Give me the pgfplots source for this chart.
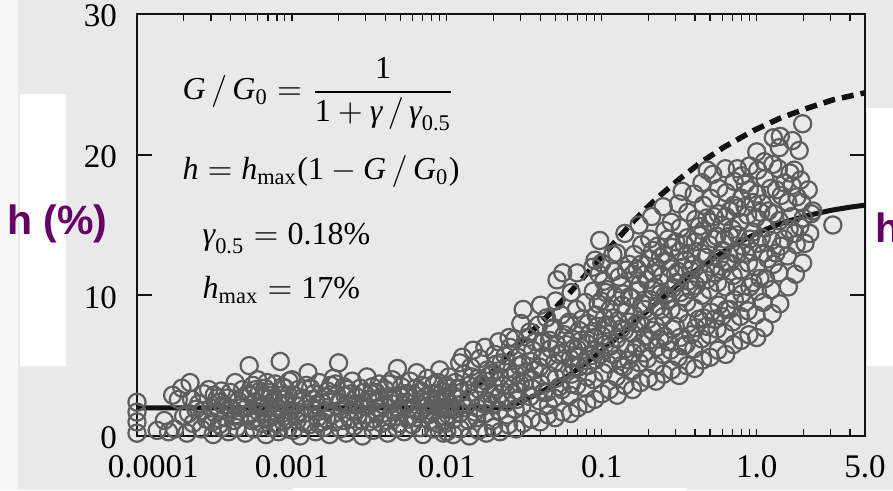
\documentclass[border=0pt]{standalone}
\usepackage{amsmath}
\usepackage{fontspec}
\setmainfont{Liberation Serif}
\newfontfamily\labelsans{Liberation Sans}
\usepackage{pgfplots}
\pgfplotsset{compat=1.18}

\definecolor{panel}{RGB}{233,233,233}
\definecolor{ring}{RGB}{94,94,94}
\definecolor{plum}{RGB}{102,0,102}
\definecolor{ink}{RGB}{18,18,18}
\newcommand{\mi}[1]{\text{\itshape #1}}
\newcommand{\mr}[1]{\text{\upshape #1}}

\begin{document}
\begin{tikzpicture}[x=1pt,y=1pt]
\useasboundingbox (0,0) rectangle (893,490);
\clip (0,0) rectangle (893,490);
% slide background
\fill[white!97!black] (0,0) rectangle (18,490);
\fill[panel] (18,0) rectangle (893,490);
\fill[white] (293,0) rectangle (687,2);
\fill[white] (20,124) rectangle (66,396);
\fill[white] (867,124) rectangle (893,382);

\begin{axis}[
  at={(137pt,54pt)}, anchor=south west,
  scale only axis, width=728pt, height=422pt,
  xmode=log, xmin=1e-4, xmax=5, ymin=0, ymax=30,
  clip=false, axis on top,
  axis line style={ink, line width=2.4pt},
  tick align=inside, xtick pos=both, ytick pos=both,
  xticklabel pos=lower, yticklabel pos=left,
  xtick={1e-4,1e-3,1e-2,1e-1,1,5},
  xticklabels={\rlap{\kern-29pt 0.0001},0.001,0.01,0.1,1.0,5.0},
  minor xtick={2e-4,3e-4,4e-4,5e-4,6e-4,7e-4,8e-4,9e-4,1e-3,
               2e-3,3e-3,4e-3,5e-3,6e-3,7e-3,8e-3,9e-3,1e-2,
               2e-2,3e-2,4e-2,5e-2,6e-2,7e-2,8e-2,9e-2,1e-1,
               0.2,0.3,0.4,0.5,0.6,0.7,0.8,0.9,1,2,3,4},
  ytick={0,10,20,30}, yticklabels={0,10,20,30},
  major tick length=15pt, minor tick length=7pt,
  major x tick style={draw=none},
  minor tick style={ink, line width=1.2pt},
  major tick style={ink, line width=2pt},
  xticklabel style={font=\fontsize{33}{36}\selectfont, anchor=north, inner sep=0pt, yshift=-19pt},
  yticklabel style={font=\fontsize{33}{36}\selectfont, anchor=east, inner sep=0pt, xshift=-20pt, yshift=-2pt},
]
% measured points
\addplot[only marks, mark=o, mark size=8.6pt, ring, mark options={line width=2.2pt}] coordinates {
(1e-4,0.2)(1e-4,1.0)(1e-4,1.7)(1e-4,2.4)
(1.35e-4,0.4)(1.5e-4,1.1)(1.6e-4,0.3)(1.7e-4,2.9)(1.75e-4,0.5)(1.85e-4,2.6)(1.95e-4,3.4)(2.0e-4,1.4)(2.1e-4,0.2)(2.2e-4,3.8)(2.25e-4,2.6)(2.3e-4,0.9)(2.4e-4,1.9)(2.5e-4,2.3)(2.6e-4,0.5)(2.7e-4,3.0)(2.8e-4,1.2)(2.9e-4,3.3)(3.0e-4,2.0)(3.1e-4,0.1)(3.2e-4,1.6)(3.3e-4,2.7)(3.4e-4,0.8)(3.5e-4,3.2)(3.6e-4,2.2)(3.7e-4,1.3)(3.8e-4,2.7)(3.9e-4,0.3)(4.0e-4,3.1)(4.1e-4,1.9)(4.3e-4,3.8)(4.4e-4,0.6)(4.5e-4,2.5)(4.6e-4,1.4)(4.8e-4,3.3)(5.0e-4,0.2)(5.1e-4,2.0)(5.2e-4,3.0)(5.3e-4,5.0)(5.4e-4,2.9)(5.5e-4,1.1)(5.6e-4,3.6)(5.7e-4,0.5)(5.8e-4,2.4)(6.0e-4,4.0)(6.1e-4,1.7)(6.2e-4,3.2)(6.4e-4,0.9)(6.5e-4,2.8)(6.7e-4,3.4)(6.8e-4,0.1)(6.9e-4,3.8)(7.0e-4,2.1)(7.1e-4,1.3)(7.3e-4,3.1)(7.4e-4,0.6)(7.6e-4,2.5)(7.8e-4,3.7)(8.0e-4,1.6)(8.2e-4,0.3)(8.4e-4,5.3)(8.5e-4,2.9)(8.8e-4,1.0)(9.0e-4,3.4)(9.2e-4,2.2)(9.4e-4,0.5)(9.6e-4,3.9)(9.8e-4,1.8)
(3.05e-4,1.0)(3.45e-4,2.4)(4.2e-4,1.1)(4.7e-4,2.0)(5.9e-4,1.3)(6.6e-4,2.2)(7.5e-4,1.5)(8.1e-4,2.4)(8.7e-4,3.5)(9.3e-4,1.2)
(2.15e-4,1.6)(2.65e-4,1.8)(3.15e-4,2.9)(3.55e-4,0.6)(3.95e-4,2.0)(4.35e-4,1.5)(4.9e-4,2.7)(5.35e-4,1.5)(5.85e-4,3.3)(6.3e-4,2.0)(6.85e-4,1.2)(7.2e-4,2.9)(7.9e-4,0.9)(8.3e-4,1.9)(8.9e-4,2.6)(9.5e-4,2.9)
(1.0e-3,4.0)(1.02e-3,0.4)(1.05e-3,2.2)(1.08e-3,1.1)(1.1e-3,3.3)(1.13e-3,0.0)(1.16e-3,2.7)(1.2e-3,1.6)(1.24e-3,3.6)(1.27e-3,4.5)(1.3e-3,0.8)(1.34e-3,2.0)(1.38e-3,3.0)(1.42e-3,0.3)(1.46e-3,1.3)(1.5e-3,3.8)(1.55e-3,2.4)(1.6e-3,0.6)(1.65e-3,1.8)(1.7e-3,3.2)(1.75e-3,0.1)(1.8e-3,2.6)(1.85e-3,4.1)(1.9e-3,1.0)(1.95e-3,2.9)(2.0e-3,5.2)(2.05e-3,0.5)(2.1e-3,1.9)(2.17e-3,3.5)(2.24e-3,0.2)(2.3e-3,2.3)(2.37e-3,1.2)(2.45e-3,3.9)(2.52e-3,0.7)(2.6e-3,2.8)(2.68e-3,1.5)(2.76e-3,3.4)(2.85e-3,0.0)(2.95e-3,2.1)(3.05e-3,4.2)(3.15e-3,1.0)(3.25e-3,3.0)(3.35e-3,0.4)(3.45e-3,2.5)(3.55e-3,1.7)(3.65e-3,3.7)(3.8e-3,0.9)(3.9e-3,2.2)(4.0e-3,3.3)(4.15e-3,0.2)(4.3e-3,1.4)(4.45e-3,4.0)(4.6e-3,2.7)(4.75e-3,0.6)(4.8e-3,4.8)(4.95e-3,1.9)(5.1e-3,3.5)(5.3e-3,0.3)(5.45e-3,2.4)(5.6e-3,1.2)(5.8e-3,3.9)(6.0e-3,0.8)(6.2e-3,2.9)(6.4e-3,4.5)(6.6e-3,1.6)(6.8e-3,3.2)(7.0e-3,0.1)(7.2e-3,2.0)(7.5e-3,4.1)(7.7e-3,1.1)(8.0e-3,3.0)(8.2e-3,0.5)(8.5e-3,2.5)(8.8e-3,3.8)(9.0e-3,4.7)(9.2e-3,1.4)(9.5e-3,0.2)(9.7e-3,2.8)(9.9e-3,3.6)
(1.12e-3,1.7)(1.35e-3,2.6)(1.58e-3,1.0)(1.78e-3,3.6)(2.2e-3,2.9)(2.5e-3,1.7)(2.9e-3,3.1)(3.4e-3,1.2)(3.7e-3,2.7)(4.2e-3,3.7)(4.9e-3,0.9)(5.4e-3,3.0)(6.1e-3,1.9)(6.9e-3,2.6)(7.9e-3,1.8)(8.7e-3,0.9)(9.4e-3,3.2)
(1.03e-3,2.9)(1.22e-3,0.9)(1.45e-3,2.2)(1.68e-3,1.2)(1.92e-3,3.7)(2.14e-3,1.1)(2.4e-3,3.0)(2.72e-3,2.3)(3.0e-3,1.5)(3.3e-3,3.5)(3.6e-3,2.0)(4.1e-3,1.1)(4.4e-3,2.3)(5.0e-3,2.8)(5.7e-3,2.0)(6.3e-3,3.4)(6.7e-3,0.6)(7.3e-3,2.8)(7.6e-3,1.5)(8.3e-3,3.7)(9.1e-3,2.0)(9.8e-3,1.1)
(1.07e-3,1.5)(1.18e-3,2.5)(1.32e-3,3.4)(1.48e-3,0.9)(1.62e-3,2.8)(1.82e-3,1.5)(2.02e-3,2.4)(2.28e-3,3.3)(2.55e-3,2.2)(2.82e-3,1.1)(3.1e-3,2.6)(3.5e-3,3.1)(3.85e-3,1.6)(4.25e-3,2.7)(4.7e-3,1.4)(5.2e-3,2.2)(5.65e-3,3.0)(6.25e-3,1.3)(6.9e-3,3.6)(7.4e-3,2.4)(8.1e-3,2.2)(8.6e-3,3.0)(9.3e-3,2.5)(9.9e-3,1.9)
(0.0100,0.3)(0.0102,1.5)(0.0099,2.6)(0.0101,3.4)(0.0103,4.2)(0.0098,0.9)
(0.0110,0.1)(0.0112,1.9)(0.0109,2.9)(0.0113,3.8)(0.0121,5.2)(0.0111,1.2)
(0.0122,0.5)(0.0127,2.3)(0.0124,3.1)(0.0129,4.4)(0.0126,5.6)(0.0121,1.6)
(0.0140,0.0)(0.0138,1.1)(0.0142,2.7)(0.0139,3.6)(0.0143,4.9)(0.0148,6.1)
(0.0160,0.4)(0.0157,2.0)(0.0162,3.3)(0.0159,4.1)(0.0163,5.5)(0.0156,1.3)
(0.0180,0.2)(0.0177,1.6)(0.0182,2.5)(0.0178,3.9)(0.0183,4.7)(0.0176,6.3)
(0.0200,0.6)(0.0197,2.2)(0.0203,3.5)(0.0199,4.5)(0.0204,5.8)(0.0196,1.1)
(0.0220,0.3)(0.0217,1.8)(0.0223,3.0)(0.0219,4.2)(0.0224,5.2)(0.0216,6.7)
(0.0250,0.8)(0.0246,2.4)(0.0254,3.6)(0.0248,4.8)(0.0256,6.3)(0.0245,1.5)(0.0252,7.0)
(0.0280,0.5)(0.0276,1.9)(0.0285,3.2)(0.0278,4.4)(0.0287,5.6)(0.0275,6.9)(0.0283,2.6)
(0.0310,0.9)(0.0305,2.1)(0.0315,3.8)(0.0308,5.1)(0.0318,6.4)(0.0300,8.0)(0.0311,9.0)
(0.0350,1.2)(0.0345,2.8)(0.0356,4.0)(0.0348,5.3)(0.0358,6.1)(0.0343,7.4)(0.0353,3.4)
(0.0400,1.0)(0.0394,2.5)(0.0406,3.7)(0.0397,4.9)(0.0409,6.6)(0.0391,7.9)(0.0402,9.3)
(0.0450,1.5)(0.0443,3.1)(0.0457,4.3)(0.0447,5.6)(0.0460,6.8)(0.0440,8.4)(0.0453,2.2)
(0.0500,1.3)(0.0493,2.7)(0.0508,4.1)(0.0497,5.2)(0.0512,6.5)(0.0490,7.7)(0.0504,9.6)(0.0514,11.1)
(0.0560,1.7)(0.0552,3.3)(0.0568,4.6)(0.0556,5.9)(0.0572,7.2)(0.0548,8.6)(0.0560,11.6)
(0.0630,1.6)(0.0621,2.9)(0.0639,4.4)(0.0626,5.5)(0.0643,6.9)(0.0617,8.1)(0.0634,10.2)(0.0636,3.7)
(0.0700,2.0)(0.0690,3.6)(0.0710,4.9)(0.0695,6.2)(0.0715,7.5)(0.0686,9.0)(0.0692,11.6)(0.0705,5.6)
(0.0800,2.3)(0.0789,3.4)(0.0811,5.0)(0.0795,6.6)(0.0817,8.0)(0.0784,9.5)(0.0875,12.0)(0.0806,4.2)
(0.0900,2.6)(0.0888,4.0)(0.0912,5.4)(0.0894,7.0)(0.0918,8.6)(0.0882,10.3)(0.0905,12.5)(0.0908,6.1)
(0.0105,2.0)(0.0118,3.4)(0.0131,2.0)(0.0145,4.2)(0.0152,1.7)(0.0168,3.7)(0.0172,2.3)(0.0188,4.3)(0.0192,3.0)(0.0208,5.1)(0.0212,2.7)(0.0232,3.6)(0.0238,5.7)(0.0262,4.2)(0.0268,3.0)(0.0292,5.0)(0.0298,3.7)(0.0326,4.5)(0.0332,7.0)(0.0367,4.7)(0.0372,6.7)(0.0415,5.6)(0.0422,3.1)(0.0468,6.2)(0.0475,7.6)(0.0525,5.8)(0.0532,3.5)(0.0588,6.5)(0.0595,7.9)(0.0655,6.2)(0.0662,4.9)(0.0735,6.8)(0.0745,8.3)(0.0835,7.3)(0.0845,5.7)(0.0935,7.8)(0.0945,9.4)(0.0960,11.5)
(0.100,3.0)(0.102,4.5)(0.098,5.8)(0.101,7.1)(0.104,8.4)(0.099,9.6)(0.103,11.0)(0.100,12.3)(0.097,13.9)
(0.112,3.3)(0.110,5.1)(0.114,6.4)(0.111,7.7)(0.113,9.0)(0.109,10.4)(0.125,13.0)
(0.126,2.9)(0.124,4.2)(0.128,5.5)(0.125,6.9)(0.127,8.2)(0.123,9.9)(0.129,11.3)(0.118,12.9)
(0.141,3.6)(0.139,4.9)(0.143,6.2)(0.140,7.5)(0.142,8.8)(0.138,10.1)(0.144,11.8)(0.141,14.4)
(0.158,3.3)(0.155,4.6)(0.160,5.9)(0.157,7.3)(0.161,8.6)(0.156,9.8)(0.159,11.5)(0.162,12.9)
(0.178,3.8)(0.175,5.2)(0.180,6.6)(0.177,8.0)(0.182,9.4)(0.176,10.8)(0.179,12.2)(0.181,13.6)(0.174,15.0)
(0.200,4.1)(0.197,5.5)(0.203,6.8)(0.199,8.3)(0.205,9.7)(0.196,11.1)(0.201,12.6)(0.204,14.0)(0.210,15.6)
(0.224,3.9)(0.221,5.0)(0.227,6.3)(0.223,7.8)(0.228,9.2)(0.220,10.6)(0.225,12.0)(0.229,13.5)
(0.251,4.4)(0.247,5.8)(0.254,7.1)(0.250,8.5)(0.256,10.0)(0.246,11.4)(0.252,12.9)(0.255,14.6)(0.249,16.3)
(0.282,4.7)(0.278,6.1)(0.286,7.6)(0.280,9.0)(0.287,10.5)(0.277,11.9)(0.284,13.4)(0.281,15.2)
(0.316,4.3)(0.312,5.6)(0.320,7.0)(0.314,8.7)(0.322,10.2)(0.311,11.7)(0.318,13.1)(0.321,14.8)(0.313,16.5)(0.330,17.4)
(0.355,5.0)(0.350,6.5)(0.360,8.0)(0.353,9.5)(0.362,11.0)(0.349,12.5)(0.357,14.1)(0.359,15.9)
(0.398,4.8)(0.393,6.2)(0.404,7.7)(0.396,9.1)(0.406,10.7)(0.391,12.2)(0.401,13.8)(0.403,15.4)(0.395,17.2)
(0.447,5.4)(0.441,6.9)(0.453,8.4)(0.444,10.0)(0.456,11.5)(0.439,13.0)(0.450,14.6)(0.452,16.4)(0.443,18.0)(0.480,18.9)
(0.501,5.6)(0.495,7.2)(0.508,8.8)(0.498,10.4)(0.511,12.0)(0.492,13.6)(0.504,15.2)(0.506,16.9)(0.520,18.6)
(0.562,6.1)(0.555,7.6)(0.570,9.3)(0.559,10.9)(0.573,12.6)(0.552,14.2)(0.565,15.8)(0.568,17.6)
(0.631,5.8)(0.623,7.3)(0.639,9.0)(0.627,10.6)(0.643,12.3)(0.620,14.0)(0.634,15.6)(0.637,17.3)(0.628,19.0)
(0.708,6.5)(0.699,8.1)(0.717,9.7)(0.704,11.4)(0.721,13.0)(0.696,14.7)(0.712,16.4)(0.715,18.1)
(0.794,6.8)(0.784,8.5)(0.804,10.1)(0.789,11.8)(0.808,13.5)(0.780,15.2)(0.798,16.9)(0.801,18.5)(0.750,19.0)
(0.891,7.2)(0.880,8.9)(0.902,10.6)(0.885,12.3)(0.907,14.0)(0.875,15.7)(0.896,17.5)(0.899,19.2)
(1.00,7.0)(0.99,8.6)(1.01,10.3)(0.995,12.0)(1.02,13.7)(0.985,15.5)(1.005,17.2)(1.015,18.9)(1.00,20.2)
(0.107,7.9)(0.135,9.3)(0.150,12.2)(0.170,10.3)(0.190,7.1)(0.215,11.6)(0.240,9.0)(0.265,12.4)(0.300,10.9)(0.340,13.6)(0.375,11.8)(0.420,14.3)(0.470,12.7)(0.530,15.6)(0.600,13.2)(0.670,16.0)(0.750,14.3)(0.840,16.3)(0.940,13.1)(1.06,15.9)
(0.105,6.5)(0.106,10.2)(0.118,5.8)(0.119,8.4)(0.120,11.7)(0.133,5.0)(0.133,7.6)(0.134,10.8)(0.149,5.4)(0.150,8.1)(0.151,9.9)(0.167,6.3)(0.168,8.0)(0.169,11.9)(0.188,5.9)(0.189,9.0)(0.190,11.5)(0.211,7.5)(0.212,10.4)(0.213,13.2)(0.237,6.9)(0.238,10.1)(0.239,12.7)(0.266,6.7)(0.267,9.7)(0.268,14.0)(0.298,7.8)(0.299,11.5)(0.300,13.8)(0.335,6.4)(0.336,9.9)(0.337,12.0)(0.376,7.2)(0.377,10.4)(0.378,13.0)(0.423,8.3)(0.424,11.2)(0.425,14.9)(0.474,7.8)(0.475,11.1)(0.476,15.5)(0.532,8.3)(0.533,11.6)(0.534,14.0)(0.596,8.5)(0.597,11.8)(0.598,15.0)(0.668,9.0)(0.669,12.3)(0.670,14.2)(0.750,10.6)(0.751,12.9)(0.752,16.2)(0.842,9.5)(0.843,13.0)(0.844,17.9)(0.945,10.9)(0.946,14.5)(0.947,16.6)
(1.12,7.7)(1.10,9.5)(1.14,11.2)(1.11,13.0)(1.15,14.8)(1.09,16.5)(1.13,18.3)(1.12,19.5)
(1.26,8.7)(1.24,10.4)(1.28,12.2)(1.25,13.9)(1.29,15.8)(1.23,17.6)(1.27,19.3)(1.40,20.5)(1.28,21.2)
(1.41,9.4)(1.39,11.6)(1.43,13.5)(1.40,15.3)(1.44,17.1)(1.38,19.0)(1.42,21.3)
(1.60,10.6)(1.58,12.8)(1.62,14.7)(1.59,16.6)(1.64,18.7)(1.88,20.3)
(1.78,11.5)(1.80,13.6)(1.76,14.4)(1.82,17.0)(1.75,18.9)(1.70,21.0)
(1.98,12.3)(2.05,13.7)(1.95,16.6)(2.00,15.5)(1.98,22.2)
(2.20,14.4)(2.25,15.8)(2.15,17.5)(2.30,16.0)
(1.05,11.2)(1.07,14.1)(1.18,12.6)(1.19,16.0)(1.33,13.0)(1.34,17.5)(1.50,14.0)(1.51,18.0)(1.68,15.6)(1.69,17.8)(1.90,14.9)(1.92,18.2)
(3.10,15.0)
};
% fitted curve, gamma_0.5 = 0.18%, h_max = 17%
\addplot[ink, line width=5pt] coordinates {
(1e-4,2.0)(0.0245,2.0)(0.03,2.43)(0.035,2.77)(0.04,3.09)(0.05,3.70)(0.06,4.25)(0.07,4.76)(0.08,5.23)(0.1,6.07)(0.12,6.80)(0.15,7.73)(0.2,8.95)(0.25,9.88)(0.3,10.63)(0.4,11.72)(0.5,12.50)(0.7,13.52)(1,14.41)(1.2,14.78)(1.5,15.18)(2,15.60)(3,16.04)(4,16.27)(5,16.41)
};
% upper bound curve
\addplot[ink, line width=5.5pt, dash pattern=on 12pt off 7pt] coordinates {
(0.0095,2.0)(0.0127,2.8)(0.019,4.4)(0.0245,5.6)(0.0344,7.3)(0.0463,8.7)(0.0623,10.2)(0.0839,11.8)(0.113,13.4)(0.152,15.0)(0.19,16.1)(0.238,17.1)(0.32,18.3)(0.43,19.4)(0.607,20.5)(0.948,21.7)(1.42,22.6)(2.12,23.3)(3.11,23.9)(5,24.4)
};
\end{axis}

\node[anchor=base west, inner sep=0pt, scale=3.2] at (182,390)
  {$\mi{G}\,/\,\mi{G}_{\mr{0}} = \dfrac{\mr{1}}{\mr{1}+\mi{γ}\,/\,\mi{γ}_{\mr{0.5}}}$};
\node[anchor=base west, inner sep=0pt, scale=3.2] at (182,310)
  {$\mi{h} = \mi{h}_{\mr{max}}\mr{(1}-\mi{G}\,/\,\mi{G}_{\mr{0}}\mr{)}$};
\node[anchor=base west, inner sep=0pt, scale=3.2] at (202,245)
  {$\mi{γ}_{\mr{0.5}} = \mr{0.18\%}$};
\node[anchor=base west, inner sep=0pt, scale=3.2] at (202,191)
  {$\mi{h}_{\mr{max}} = \mr{17\%}$};

\node[anchor=base west, inner sep=0pt, text=plum, font=\labelsans\bfseries\fontsize{41}{44}\selectfont] at (7,255) {h (\%)};
\node[anchor=base west, inner sep=0pt, text=plum, font=\labelsans\bfseries\fontsize{41}{44}\selectfont] at (875,247) {h};
\end{tikzpicture}
\end{document}
